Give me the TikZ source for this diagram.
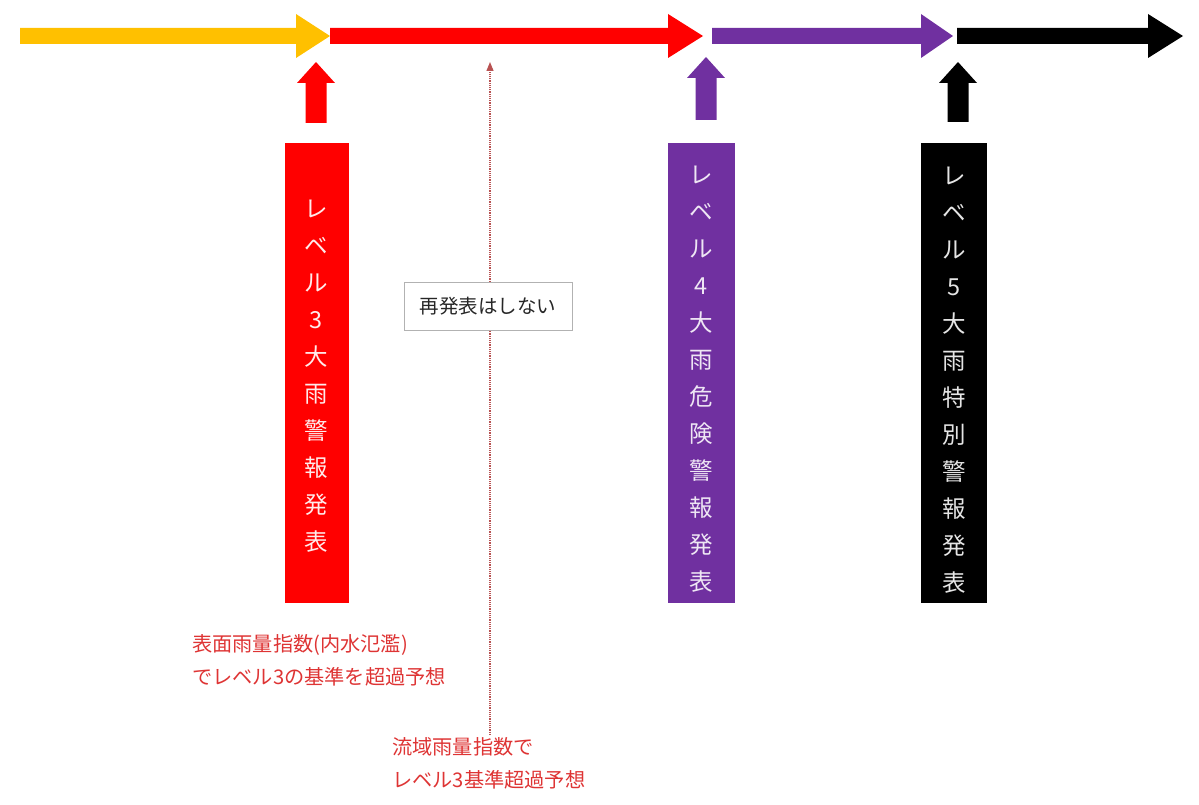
\documentclass[tikz,border=0pt]{standalone}
\usepackage{fontspec}
\setmainfont{Noto Sans CJK JP}
\usetikzlibrary{arrows.meta}
\definecolor{cyellow}{RGB}{255,192,0}
\definecolor{cred}{RGB}{255,0,0}
\definecolor{cpurple}{RGB}{112,48,160}
\definecolor{ctext}{RGB}{222,52,52}
\newcommand\harr[4]{\fill[#4] (#1,28) -- (#2,28) -- (#2,14) -- (#3,36) -- (#2,58) -- (#2,44) -- (#1,44) -- cycle;}
\newcommand\uarr[4]{\fill[#4] (#1-10.5,#3) -- (#1-10.5,#2+21) -- (#1-19,#2+21) -- (#1,#2) -- (#1+19,#2+21) -- (#1+10.5,#2+21) -- (#1+10.5,#3) -- cycle;}
\tikzset{
  levelbox/.style={minimum width=64pt, minimum height=460pt, inner sep=0pt, align=center, font=\fontsize{23.5}{37}\selectfont},
  redlabel/.style={text=ctext, anchor=north west, align=left, inner sep=0pt, font=\fontsize{20.2}{33}\selectfont},
}
\begin{document}
\begin{tikzpicture}[x=1pt,y=-1pt]
\useasboundingbox (0,0) rectangle (1199,805);
% horizontal timeline arrows
\harr{20}{296}{330}{cyellow}
\harr{330}{668}{703}{cred}
\harr{712}{921}{953}{cpurple}
\harr{957}{1148}{1183}{black}
% up arrows
\uarr{316}{62}{123}{cred}
\uarr{706}{57}{120}{cpurple}
\uarr{958}{62}{122}{black}
% dotted line
\coordinate (dbot) at (490,735);
\coordinate (dtop) at (490,62);
\draw[ctext!60!gray, line width=1.2pt, densely dotted, -{Triangle[width=7pt,length=9pt]}] (dbot) -- (dtop);
% note
\node[draw=gray!60, fill=white, line width=0.8pt, minimum width=168pt, minimum height=48pt, inner sep=0pt, font=\fontsize{19.5}{20}\selectfont, text=black!85] (note) at (488,306) {再発表はしない};
% level boxes
\fill[cred] (285,143) rectangle (349,603);
\node[levelbox, text=white!92!red] (l3) at (316.5,376) {レ\\ベ\\ル\\3\\大\\雨\\警\\報\\発\\表};
\fill[cpurple] (668,143) rectangle (735,603);
\node[levelbox, text=white!88!cpurple] (l4) at (701.5,379) {レ\\ベ\\ル\\4\\大\\雨\\危\\険\\警\\報\\発\\表};
\fill[black] (921,143) rectangle (987,603);
\node[levelbox, text=white!90!black] (l5) at (954,380) {レ\\ベ\\ル\\5\\大\\雨\\特\\別\\警\\報\\発\\表};
% red labels
\node[redlabel] (t1) at (192,634) {表面雨量指数(内水氾濫)\\でレベル3の基準を超過予想};
\node[redlabel] (t2) at (392,737) {流域雨量指数で\\レベル3基準超過予想};
\end{tikzpicture}
\end{document}
